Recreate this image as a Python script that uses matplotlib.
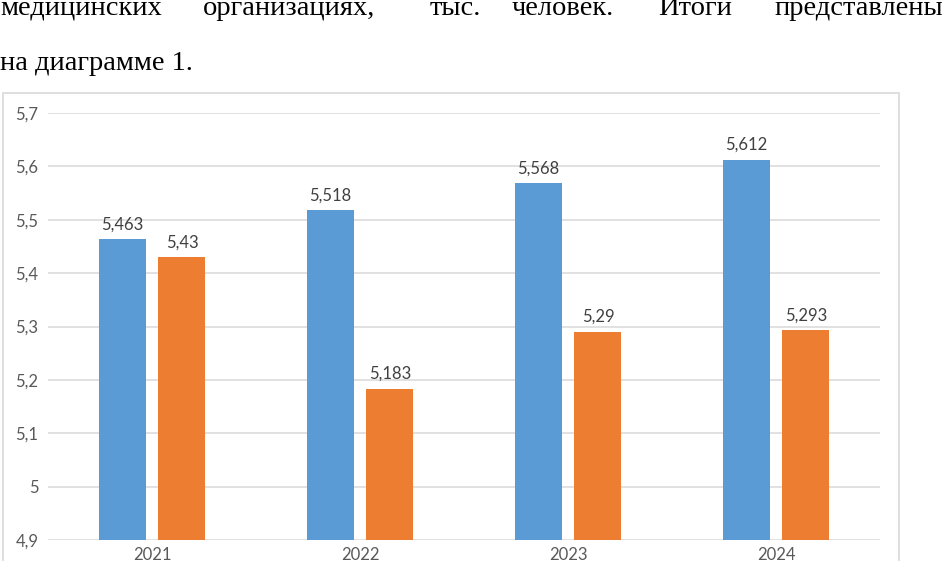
import numpy as np
import matplotlib.pyplot as plt
from matplotlib.patches import Rectangle

# =========================
# Data
# =========================
years = ['2021', '2022', '2023', '2024']
series_a = [5.463, 5.518, 5.568, 5.612]
series_b = [5.43, 5.183, 5.29, 5.293]
y_ticks = [4.9, 5.0, 5.1, 5.2, 5.3, 5.4, 5.5, 5.6, 5.7]

line1_words = ['медицинских', 'организациях,', 'тыс.', 'человек.', 'Итоги', 'представлены']
line1_x = [0, 203, 430, 512, 658, 943]
line2_text = 'на диаграмме 1.'

BLUE = '#5B9BD5'
ORANGE = '#ED7D31'
GRID = '#D9D9D9'
TEXT = '#595959'

W, H = 943, 561


def fmt(v):
    s = ('%.3f' % v).rstrip('0').rstrip('.')
    return s.replace('.', ',')


fig = plt.figure(figsize=(W / 100, H / 100), dpi=100)

# document text above the chart
serif = ['Liberation Serif', 'DejaVu Serif']
for i, (word, x) in enumerate(zip(line1_words, line1_x)):
    ha = 'right' if i == len(line1_words) - 1 else 'left'
    fig.text(x / W, 1 - 15 / H, word, ha=ha, va='baseline', fontsize=20.5,
             family=serif, color='black')
fig.text(0, 1 - 70 / H, line2_text, ha='left', va='baseline', fontsize=20.5,
         family=serif, color='black')

# chart frame
fig.patches.append(Rectangle((3 / W, -0.05), 896 / W, (H - 93) / H + 0.05,
                             transform=fig.transFigure, fill=False,
                             edgecolor=GRID, linewidth=1.2))

ax = fig.add_axes([48 / W, (H - 540) / H, 832 / W, (540 - 113) / H])
x = np.arange(len(years))
bw = 0.226
off = 0.144
bars_a = ax.bar(x - off, series_a, bw, color=BLUE, zorder=3)
bars_b = ax.bar(x + off, series_b, bw, color=ORANGE, zorder=3)

for bars, vals in ((bars_a, series_a), (bars_b, series_b)):
    for b, v in zip(bars, vals):
        ax.annotate(fmt(v), (b.get_x() + b.get_width() / 2, v),
                    xytext=(0, 5), textcoords='offset points',
                    ha='center', va='bottom', fontsize=12, family='Lato',
                    color='#404040')

ax.set_xlim(-0.5, len(years) - 0.5)
ax.set_ylim(4.9, 5.7)
ax.set_yticks(y_ticks)
ax.set_yticklabels([fmt(t) for t in y_ticks], family='Lato', fontsize=12, color=TEXT)
ax.set_xticks(x)
ax.set_xticklabels(years, family='Lato', fontsize=12, color=TEXT)
ax.tick_params(axis='both', length=0)
ax.tick_params(axis='y', pad=7)
ax.tick_params(axis='x', pad=5)
ax.grid(axis='y', color=GRID, linewidth=1.1, zorder=0)
for s in ax.spines.values():
    s.set_visible(False)

fig.savefig('out.png', dpi=100)
